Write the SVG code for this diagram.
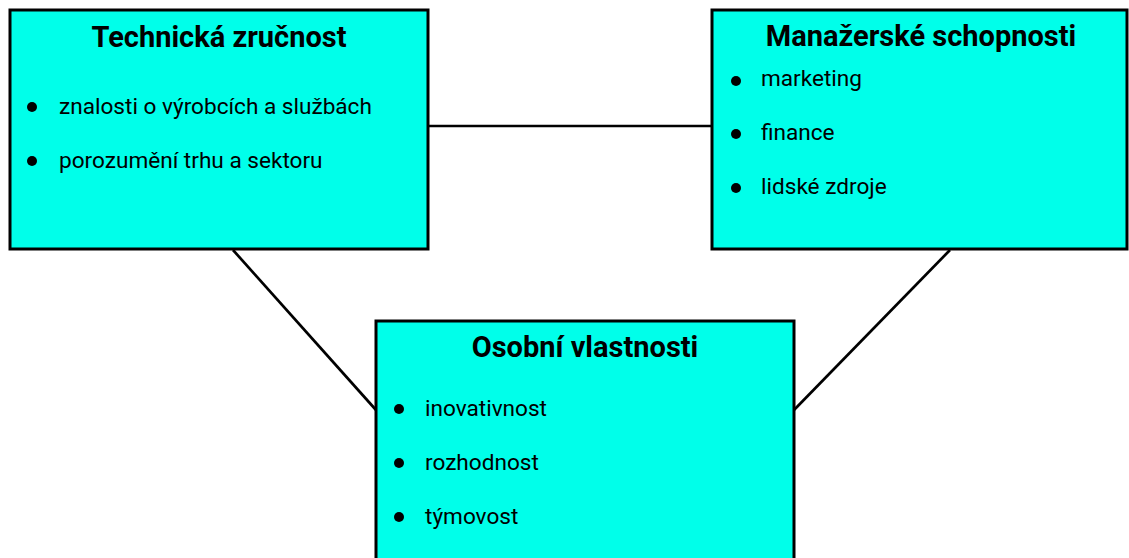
<svg xmlns="http://www.w3.org/2000/svg" width="1129" height="558" viewBox="0 0 1129 558">
<style>
.box{fill:#00FFEA;stroke:#000;stroke-width:3}
.title{font-family:Roboto,"Liberation Sans",sans-serif;font-weight:bold;font-size:29px;text-anchor:middle;fill:#000}
.item{font-family:Roboto,"Liberation Sans",sans-serif;font-size:22.6px;fill:#000}
.conn{stroke:#000;stroke-width:2.7;fill:none}
</style>
<rect width="1129" height="558" fill="#fff"/>
<g id="connectors">
<line class="conn" x1="428" y1="126" x2="712" y2="126"/>
<line class="conn" x1="233" y1="250" x2="376" y2="410"/>
<line class="conn" x1="950" y1="250" x2="794" y2="410"/>
</g>
<g id="technicka">
<rect class="box" x="10" y="10" width="418" height="239"/>
<text class="title" x="219" y="47">Technická zručnost</text>
<circle cx="32" cy="107" r="5"/>
<text class="item" x="59" y="114">znalosti o výrobcích a službách</text>
<circle cx="32" cy="161" r="5"/>
<text class="item" x="59" y="168">porozumění trhu a sektoru</text>
</g>
<g id="manazerske">
<rect class="box" x="712" y="10" width="415" height="239"/>
<text class="title" x="921" y="46">Manažerské schopnosti</text>
<circle cx="736" cy="81" r="5"/>
<text class="item" x="761" y="86">marketing</text>
<circle cx="736" cy="134" r="5"/>
<text class="item" x="761" y="140">finance</text>
<circle cx="736" cy="188" r="5"/>
<text class="item" x="761" y="194">lidské zdroje</text>
</g>
<g id="osobni">
<rect class="box" x="376" y="321" width="418" height="250"/>
<text class="title" x="585" y="357">Osobní vlastnosti</text>
<circle cx="399" cy="409" r="5"/>
<text class="item" x="425" y="416">inovativnost</text>
<circle cx="399" cy="463" r="5"/>
<text class="item" x="425" y="470">rozhodnost</text>
<circle cx="399" cy="517" r="5"/>
<text class="item" x="425" y="524">týmovost</text>
</g>
</svg>
